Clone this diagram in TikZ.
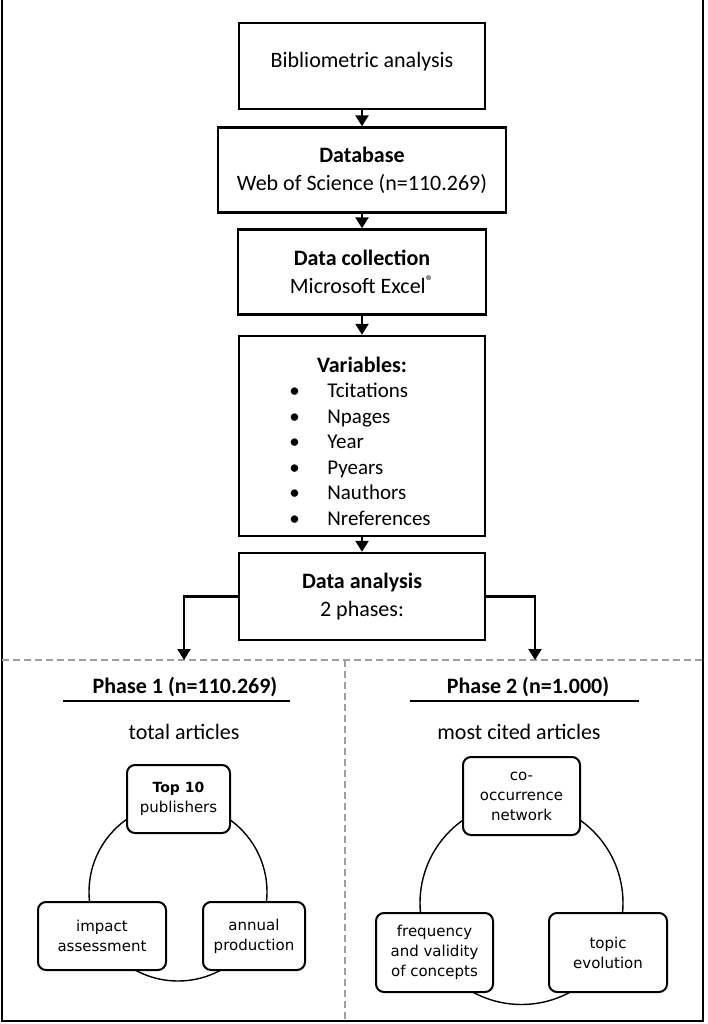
\documentclass[tikz,border=0pt]{standalone}
\usepackage{fontspec}
\setmainfont{Carlito}
\newfontfamily\boxfont{DejaVu Sans}
\usetikzlibrary{arrows.meta}
\begin{document}
\begin{tikzpicture}[x=1pt,y=-1pt,
 mainbox/.style={draw, line width=2.4pt, inner sep=0pt, align=center, font=\fontsize{22}{28}\selectfont},
 flow/.style={line width=2.4pt, -{Triangle[width=13pt,length=11pt]}},
 cbox/.style={draw, line width=2pt, fill=white, rounded corners=8pt, inner sep=0pt, align=center, font=\boxfont\fontsize{15}{20}\selectfont},
 cyc/.style={line width=1.4pt},
 sep/.style={draw=gray!75, line width=1.6pt, dash pattern=on 7pt off 4pt},
 phase/.style={font=\bfseries\fontsize{22}{26}\selectfont},
 sub/.style={font=\fontsize{22}{26}\selectfont},
 uline/.style={line width=1.5pt}
 ]
\useasboundingbox (0,0) rectangle (708,1024);
% frame
\draw[line width=2pt] (2,0) -- (2,1021) -- (703,1021) -- (703,0);
% separators
\coordinate (sl) at (2,660);
\coordinate (sr) at (703,660);
\coordinate (st) at (345,660);
\coordinate (sb) at (345,1021);
\draw[sep] (sl) -- (sr);
\draw[sep] (st) -- (sb);
% main flow
\node[mainbox, minimum width=246pt, minimum height=86pt, text depth=12pt] (b1) at (362,66) {Bibliometric analysis};
\node[mainbox, minimum width=288pt, minimum height=85pt] (b2) at (362,170) {\textbf{Database}\\Web of Science (n=110.269)};
\node[mainbox, minimum width=248pt, minimum height=85pt] (b3) at (362,272) {\textbf{Data collection}\\Microsoft Excel\textsuperscript{\textregistered}};
\node[mainbox, minimum width=246pt, minimum height=200pt] (b4) at (362,436) {\rule{0pt}{34pt}\textbf{Variables:}\\[6pt]\fontsize{21}{25.5}\selectfont
 \begin{tabular}{@{}p{34pt}@{}l@{}}
 \hspace*{-4pt}\textbullet & Tcitations\\
 \hspace*{-4pt}\textbullet & Npages\\
 \hspace*{-4pt}\textbullet & Year\\
 \hspace*{-4pt}\textbullet & Pyears\\
 \hspace*{-4pt}\textbullet & Nauthors\\
 \hspace*{-4pt}\textbullet & Nreferences
 \end{tabular}};
\node[mainbox, minimum width=246pt, minimum height=87pt] (b5) at (362,596.5) {\textbf{Data analysis}\\2 phases:};
\draw[flow] (b1.south) -- (b1.south |- b2.north);
\draw[flow] (b2.south) -- (b2.south |- b3.north);
\draw[flow] (b3.south) -- (b3.south |- b4.north);
\draw[flow] (b4.south) -- (b4.south |- b5.north);
\coordinate (p1) at (184,660);
\coordinate (p2) at (535,660);
\draw[flow] (b5.west) -| (p1);
\draw[flow] (b5.east) -| (p2);
% phase headings
\node[phase] (ph1) at (185,687) {Phase 1 (n=110.269)};
\node[phase] (ph2) at (528,687) {Phase 2 (n=1.000)};
\coordinate (u1a) at (63,701); \coordinate (u1b) at (290,701);
\coordinate (u2a) at (410,701); \coordinate (u2b) at (639,701);
\draw[uline] (u1a) -- (u1b);
\draw[uline] (u2a) -- (u2b);
\node[sub] (s1) at (184,732) {total articles};
\node[sub] (s2) at (519,732) {most cited articles};
% cycle 1
\draw[cyc] (178,892) circle[radius=89pt];
\node[cbox, minimum width=103pt, minimum height=68pt] (c1a) at (178.5,799) {\bfseries\fontsize{14}{22}\selectfont Top 10\\publishers};
\node[cbox, minimum width=128pt, minimum height=68pt] (c1b) at (102,936) {impact\\assessment};
\node[cbox, minimum width=102pt, minimum height=68pt] (c1c) at (254,936) {annual\\production};
% cycle 2
\draw[cyc] (521.5,903) circle[radius=101.5pt];
\node[cbox, minimum width=117pt, minimum height=78pt] (c2a) at (521.5,796) {co-\\occurrence\\network};
\node[cbox, minimum width=117pt, minimum height=79pt] (c2b) at (434.5,952.5) {frequency\\and validity\\of concepts};
\node[cbox, minimum width=118pt, minimum height=79pt] (c2c) at (608,952.5) {topic\\evolution};
\end{tikzpicture}
\end{document}
